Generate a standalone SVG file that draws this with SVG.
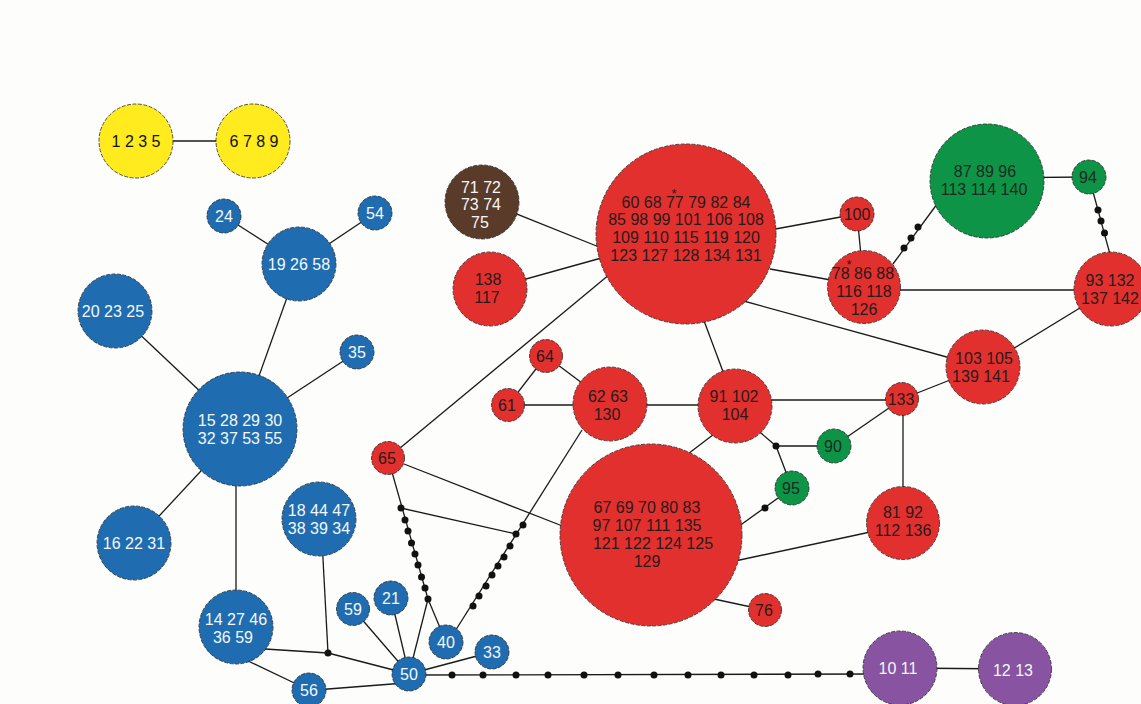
<svg xmlns="http://www.w3.org/2000/svg" width="1141" height="704" viewBox="0 0 1141 704">
<style>
.bg{fill:#fdfdfc}
.e line,.e polyline{stroke:#1a1a1a;stroke-width:1.3;fill:none}
.d{fill:#111}
circle.n{stroke:#2a2a2a;stroke-width:0.8;stroke-dasharray:4 1.5}
.y{fill:#ffeb1e}.b{fill:#1f6db0}.r{fill:#e2302e}.g{fill:#0d9447}.br{fill:#5a3a28}.p{fill:#8853a0}
text{font-family:"Liberation Sans",Arial,sans-serif;font-size:16px;text-anchor:middle}
.tw{fill:#f4f7fb}.tk{fill:#2a1a1a}.tg{fill:#1c2a20}.ty{fill:#111}
.ast{font-size:13px}
</style>
<rect class="bg" x="0" y="0" width="1141" height="704"/>
<g id="connectors" class="e">
<line x1="173" y1="141" x2="217" y2="141"/>
<line x1="224" y1="216" x2="299" y2="264"/>
<line x1="375" y1="213" x2="299" y2="264"/>
<line x1="299" y1="264" x2="240" y2="429"/>
<line x1="115" y1="311" x2="240" y2="429"/>
<line x1="357" y1="352" x2="240" y2="429"/>
<line x1="134" y1="543" x2="240" y2="429"/>
<line x1="236" y1="429" x2="236" y2="627"/>
<line x1="265" y1="649" x2="328" y2="653"/>
<line x1="328" y1="653" x2="322" y2="540"/>
<line x1="328" y1="653" x2="409" y2="674"/>
<line x1="246" y1="660" x2="309" y2="690"/>
<line x1="315" y1="690" x2="405" y2="683"/>
<line x1="409" y1="674" x2="353" y2="609"/>
<line x1="409" y1="674" x2="391" y2="598"/>
<line x1="409" y1="674" x2="428" y2="599"/>
<line x1="428" y1="599" x2="446" y2="642"/>
<line x1="409" y1="674" x2="492" y2="652"/>
<line x1="409" y1="675" x2="880" y2="674"/>
<line x1="388" y1="458" x2="428" y2="599"/>
<line x1="401" y1="508" x2="516" y2="534"/>
<line x1="582" y1="430" x2="452" y2="636"/>
<line x1="404" y1="464" x2="565" y2="527"/>
<line x1="388" y1="458" x2="610" y2="274"/>
<line x1="508" y1="405" x2="610" y2="405"/>
<line x1="508" y1="405" x2="546" y2="356"/>
<line x1="546" y1="356" x2="610" y2="404"/>
<line x1="610" y1="405" x2="735" y2="405"/>
<line x1="728" y1="385" x2="700" y2="310"/>
<line x1="722" y1="428" x2="680" y2="460"/>
<line x1="735" y1="400" x2="902" y2="400"/>
<polyline points="755,428 776,446 792,488"/>
<line x1="776" y1="446" x2="834" y2="446"/>
<line x1="834" y1="446" x2="902" y2="399"/>
<line x1="792" y1="488" x2="735" y2="529"/>
<line x1="903" y1="399" x2="903" y2="523"/>
<line x1="902" y1="399" x2="983" y2="367"/>
<line x1="903" y1="525" x2="735" y2="561"/>
<line x1="700" y1="596" x2="765" y2="610"/>
<line x1="482" y1="200" x2="604" y2="249"/>
<line x1="490" y1="289" x2="605" y2="257"/>
<line x1="770" y1="230" x2="857" y2="214"/>
<line x1="770" y1="269" x2="864" y2="286"/>
<line x1="740" y1="300" x2="983" y2="367"/>
<line x1="857" y1="214" x2="864" y2="287"/>
<line x1="864" y1="290" x2="1111" y2="290"/>
<line x1="893" y1="264" x2="940" y2="200"/>
<line x1="987" y1="178" x2="1089" y2="177"/>
<line x1="1089" y1="177" x2="1111" y2="258"/>
<line x1="1111" y1="289" x2="983" y2="367"/>
<line x1="900" y1="668" x2="1015" y2="669"/>
</g>
<g id="dots" class="d">
<circle cx="328" cy="653" r="3.5"/>
<circle cx="428" cy="599" r="3.5"/>
<circle cx="401" cy="508" r="3.5"/><circle cx="405" cy="520" r="3.5"/><circle cx="408" cy="531" r="3.5"/><circle cx="411.5" cy="543" r="3.5"/><circle cx="415" cy="554" r="3.5"/><circle cx="418" cy="565" r="3.5"/><circle cx="421.5" cy="577" r="3.5"/><circle cx="425" cy="588" r="3.5"/>
<circle cx="523" cy="525" r="3.5"/><circle cx="516" cy="534" r="3.5"/><circle cx="510" cy="546" r="3.5"/><circle cx="504" cy="557" r="3.5"/><circle cx="498" cy="566" r="3.5"/><circle cx="492" cy="575" r="3.5"/><circle cx="486" cy="586" r="3.5"/><circle cx="479" cy="596" r="3.5"/><circle cx="473" cy="606" r="3.5"/>
<circle cx="452" cy="675" r="3.5"/><circle cx="483" cy="675" r="3.5"/><circle cx="516" cy="675" r="3.5"/><circle cx="548" cy="675" r="3.5"/><circle cx="584" cy="675" r="3.5"/><circle cx="618" cy="675" r="3.5"/><circle cx="654" cy="675" r="3.5"/><circle cx="688" cy="675" r="3.5"/><circle cx="721" cy="675" r="3.5"/><circle cx="754" cy="675" r="3.5"/><circle cx="788" cy="675" r="3.5"/><circle cx="818" cy="674" r="3.5"/><circle cx="850" cy="674" r="3.5"/>
<circle cx="776" cy="446" r="3.5"/>
<circle cx="765" cy="508" r="3.5"/>
<circle cx="904" cy="248" r="3.5"/><circle cx="911" cy="238" r="3.5"/><circle cx="918" cy="227" r="3.5"/>
<circle cx="1098" cy="210" r="3.5"/><circle cx="1101" cy="221" r="3.5"/><circle cx="1104.5" cy="233" r="3.5"/>
</g>
<g id="n1235"><circle class="n y" cx="136" cy="141" r="37"/><text class="ty" x="136" y="147">1 2 3 5</text></g>
<g id="n6789"><circle class="n y" cx="253" cy="141" r="37"/><text class="ty" x="254" y="147">6 7 8 9</text></g>
<g id="n24"><circle class="n b" cx="224" cy="216" r="17"/><text class="tw" x="224" y="222">24</text></g>
<g id="n54"><circle class="n b" cx="375" cy="213" r="17"/><text class="tw" x="375" y="219">54</text></g>
<g id="n19"><circle class="n b" cx="299" cy="264" r="37"/><text class="tw" x="299" y="270">19 26 58</text></g>
<g id="n20"><circle class="n b" cx="115" cy="311" r="37"/><text class="tw" x="113" y="317">20 23 25</text></g>
<g id="n35"><circle class="n b" cx="357" cy="352" r="17"/><text class="tw" x="357" y="358">35</text></g>
<g id="n15"><circle class="n b" cx="240" cy="429" r="57"/><text class="tw" x="240" y="426">15 28 29 30</text><text class="tw" x="240" y="444">32 37 53 55</text></g>
<g id="n16"><circle class="n b" cx="134" cy="543" r="37"/><text class="tw" x="134" y="549">16 22 31</text></g>
<g id="n18"><circle class="n b" cx="319" cy="519" r="37"/><text class="tw" x="319" y="516">18 44 47</text><text class="tw" x="319" y="534">38 39 34</text></g>
<g id="n14"><circle class="n b" cx="236" cy="627" r="37"/><text class="tw" x="236" y="625">14 27 46</text><text class="tw" x="233" y="643">36 59</text></g>
<g id="n59"><circle class="n b" cx="353" cy="609" r="16.5"/><text class="tw" x="353" y="615">59</text></g>
<g id="n21"><circle class="n b" cx="391" cy="598" r="17"/><text class="tw" x="391" y="604">21</text></g>
<g id="n56"><circle class="n b" cx="309" cy="690" r="17"/><text class="tw" x="309" y="696">56</text></g>
<g id="n50"><circle class="n b" cx="409" cy="674" r="17"/><text class="tw" x="409" y="680">50</text></g>
<g id="n40"><circle class="n b" cx="446" cy="642" r="17"/><text class="tw" x="446" y="648">40</text></g>
<g id="n33"><circle class="n b" cx="492" cy="652" r="17"/><text class="tw" x="492" y="658">33</text></g>
<g id="n65"><circle class="n r" cx="388" cy="458" r="16.5"/><text class="tk" x="387" y="464">65</text></g>
<g id="n64"><circle class="n r" cx="546" cy="356" r="16.5"/><text class="tk" x="545" y="362">64</text></g>
<g id="n61"><circle class="n r" cx="508" cy="405" r="16.5"/><text class="tk" x="507" y="411">61</text></g>
<g id="n62"><circle class="n r" cx="610" cy="404" r="37"/><text class="tk" x="608" y="402">62 63</text><text class="tk" x="607" y="420">130</text></g>
<g id="n67"><circle class="n r" cx="651" cy="535" r="91"/><text class="tk" x="647" y="513">67 69 70 80 83</text><text class="tk" x="647" y="531">97 107 111 135</text><text class="tk" x="653" y="549">121 122 124 125</text><text class="tk" x="647" y="567">129</text></g>
<g id="n76"><circle class="n r" cx="765" cy="610" r="16.5"/><text class="tk" x="764" y="616">76</text></g>
<g id="n91"><circle class="n r" cx="735" cy="406" r="37"/><text class="tk" x="734" y="402">91 102</text><text class="tk" x="735" y="420">104</text></g>
<g id="n133"><circle class="n r" cx="902" cy="399" r="16.5"/><text class="tk" x="901" y="405">133</text></g>
<g id="n81"><circle class="n r" cx="903" cy="523" r="36.5"/><text class="tk" x="903" y="518">81 92</text><text class="tk" x="903" y="536">112 136</text></g>
<g id="n103"><circle class="n r" cx="983" cy="367" r="37"/><text class="tk" x="984" y="364">103 105</text><text class="tk" x="981" y="382">139 141</text></g>
<g id="n93"><circle class="n r" cx="1111" cy="289" r="37"/><text class="tk" x="1110" y="286">93 132</text><text class="tk" x="1110" y="304">137 142</text></g>
<g id="n78"><circle class="n r" cx="864" cy="287" r="36.5"/><text class="tk" x="863" y="279">78 86 88</text><text class="tk" x="864" y="297">116 118</text><text class="tk" x="864" y="315">126</text><text class="tk ast" x="849" y="269">*</text></g>
<g id="n100"><circle class="n r" cx="857" cy="214" r="17"/><text class="tk" x="857" y="220">100</text></g>
<g id="ntop"><circle class="n r" cx="686" cy="234" r="90"/><text class="tk" x="686" y="208">60 68 77 79 82 84</text><text class="tk" x="686" y="225">85 98 99 101 106 108</text><text class="tk" x="686" y="243">109 110 115 119 120</text><text class="tk" x="686" y="261">123 127 128 134 131</text><text class="tk ast" x="674" y="198">*</text></g>
<g id="n138"><circle class="n r" cx="490" cy="289" r="37"/><text class="tk" x="488" y="285">138</text><text class="tk" x="487" y="303">117</text></g>
<g id="n71"><circle class="n br" cx="482" cy="202" r="37"/><text class="tw" x="481" y="193">71 72</text><text class="tw" x="481" y="210">73 74</text><text class="tw" x="480" y="228">75</text></g>
<g id="n87"><circle class="n g" cx="987" cy="181" r="57"/><text class="tg" x="985" y="177">87 89 96</text><text class="tg" x="984" y="195">113 114 140</text></g>
<g id="n94"><circle class="n g" cx="1089" cy="177" r="17"/><text class="tg" x="1088" y="183">94</text></g>
<g id="n90"><circle class="n g" cx="834" cy="446" r="17"/><text class="tg" x="833" y="452">90</text></g>
<g id="n95"><circle class="n g" cx="792" cy="488" r="17"/><text class="tg" x="791" y="494">95</text></g>
<g id="n10"><circle class="n p" cx="900" cy="668" r="37"/><text class="tw" x="898" y="674">10 11</text></g>
<g id="n12"><circle class="n p" cx="1015" cy="669" r="36.5"/><text class="tw" x="1013" y="676">12 13</text></g>
</svg>
